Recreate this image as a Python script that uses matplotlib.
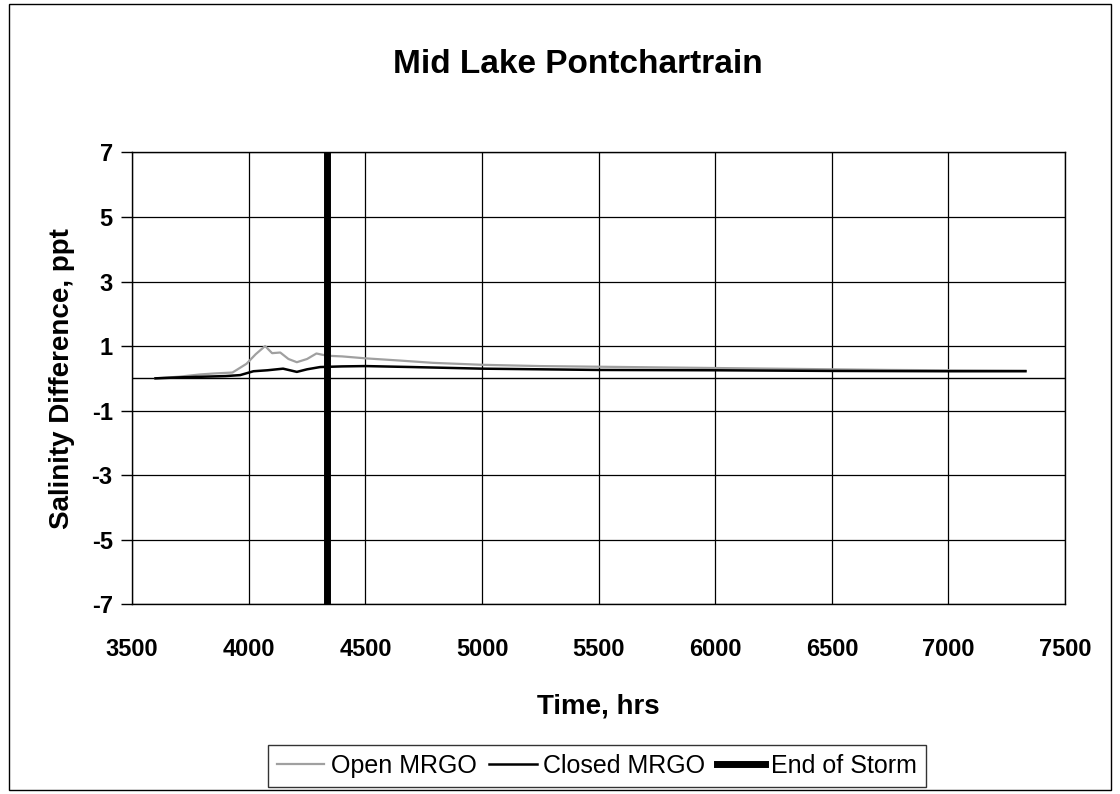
import matplotlib
matplotlib.use("Agg")
import matplotlib.pyplot as plt
from matplotlib.patches import Rectangle

plt.rcParams['font.family'] = ['Liberation Sans', 'DejaVu Sans']
plt.rcParams['axes.unicode_minus'] = False

title = "Mid Lake Pontchartrain"
xlabel = "Time, hrs"
ylabel = "Salinity Difference, ppt"

open_t = [3600, 3700, 3790, 3850, 3930, 3990, 4030, 4070, 4100, 4135, 4170, 4206,
          4250, 4290, 4336, 4400, 4500, 4650, 4790, 5000, 5250, 5500, 5750, 6000,
          6250, 6500, 6750, 7000, 7330]
open_v = [0.0, 0.05, 0.12, 0.15, 0.18, 0.45, 0.75, 1.0, 0.78, 0.8, 0.6, 0.5,
          0.6, 0.77, 0.7, 0.68, 0.62, 0.55, 0.48, 0.42, 0.38, 0.36, 0.34, 0.32,
          0.3, 0.28, 0.26, 0.25, 0.24]

closed_t = [3600, 3700, 3800, 3900, 3963, 4020, 4080, 4147, 4206, 4250, 4306, 4400,
            4500, 4700, 5000, 5500, 6000, 6500, 7000, 7330]
closed_v = [0.0, 0.03, 0.05, 0.07, 0.1, 0.22, 0.25, 0.3, 0.2, 0.28, 0.35, 0.37,
            0.38, 0.35, 0.3, 0.26, 0.25, 0.23, 0.22, 0.22]

storm_t = 4336

xticks = [3500, 4000, 4500, 5000, 5500, 6000, 6500, 7000, 7500]
yticks = [7, 5, 3, 1, -1, -3, -5, -7]

fig = plt.figure(figsize=(11.2, 7.94), dpi=100)
ax = fig.add_axes([0.118, 0.239, 0.833, 0.569])

ax.plot(open_t, open_v, color='#a0a0a0', lw=1.6, label='Open MRGO', zorder=3)
ax.plot(closed_t, closed_v, color='black', lw=1.8, label='Closed MRGO', zorder=4)
ax.axvline(storm_t, color='black', lw=5, label='End of Storm', zorder=5)
ax.axhline(0, color='black', lw=1.0, zorder=2)

ax.set_xlim(3500, 7500)
ax.set_ylim(-7, 7)
ax.set_xticks(xticks)
ax.set_yticks(yticks)
ax.grid(True, color='black', lw=0.9)
ax.set_axisbelow(True)
for s in ax.spines.values():
    s.set_linewidth(1.0)
ax.tick_params(axis='both', labelsize=17, direction='out', length=8, width=1)
ax.tick_params(axis='y', pad=6)
ax.tick_params(axis='x', length=0, pad=24)
for lab in ax.get_xticklabels() + ax.get_yticklabels():
    lab.set_fontweight('bold')

fig.text(0.516, 0.919, title, fontsize=24, fontweight='bold', ha='center', va='center')
ax.set_xlabel(xlabel, fontsize=20, fontweight='bold', labelpad=24)
ax.set_ylabel(ylabel, fontsize=20, fontweight='bold', labelpad=12)

leg = fig.legend(loc='lower center', bbox_to_anchor=(0.533, 0.003), ncol=3,
                 fontsize=18, frameon=True, fancybox=False, edgecolor='black',
                 handlelength=1.9, handletextpad=0.25, columnspacing=0.5,
                 borderpad=0.35, borderaxespad=0.2)
leg.get_frame().set_linewidth(1.0)

fig.patches.append(Rectangle((0.008, 0.005), 0.984, 0.99, transform=fig.transFigure,
                             fill=False, edgecolor='black', lw=1.0))

fig.savefig('out.png', dpi=100)
